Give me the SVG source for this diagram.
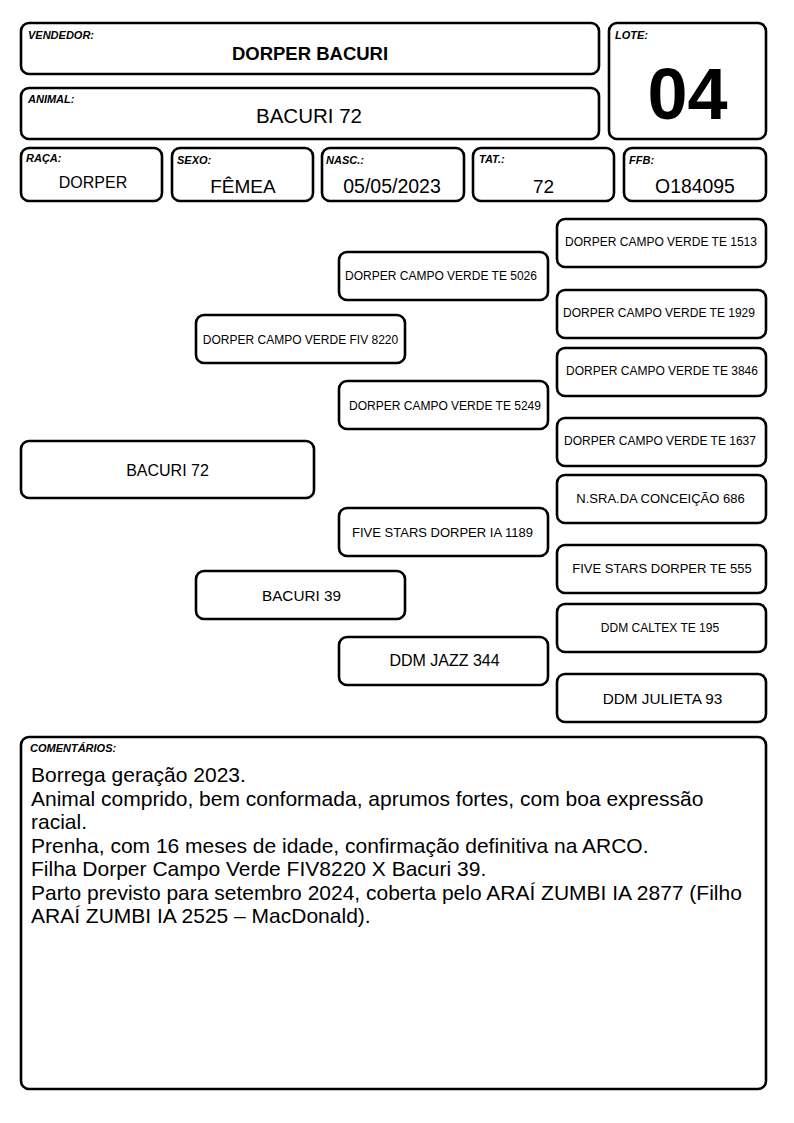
<svg xmlns="http://www.w3.org/2000/svg" width="794" height="1123" viewBox="0 0 794 1123">
<style>
.b{fill:#fff;stroke:#000;stroke-width:2.6}
.lbl{font-family:"Liberation Sans",Arial,sans-serif;font-size:11px;font-weight:bold;font-style:italic;fill:#000}
.v{font-family:"Liberation Sans",Arial,sans-serif;fill:#000;text-anchor:middle}
.p{font-family:"Liberation Sans",Arial,sans-serif;fill:#000;text-anchor:middle;font-size:12px}
.p13{font-size:13px}
.c{font-family:"Liberation Sans",Arial,sans-serif;font-size:21px;fill:#000}
</style>
<rect width="794" height="1123" fill="#fff"/>
<g id="vendedor"><rect class="b" x="21" y="23" width="578" height="51" rx="8"/><text class="lbl" x="28" y="39">VENDEDOR:</text><text class="v" x="310" y="60" font-size="18.5" font-weight="bold">DORPER BACURI</text></g>
<g id="animal"><rect class="b" x="21" y="88" width="578" height="51" rx="8"/><text class="lbl" x="28" y="103">ANIMAL:</text><text class="v" x="309" y="123" font-size="20.5">BACURI 72</text></g>
<g id="lote"><rect class="b" x="609" y="23" width="157" height="116" rx="8"/><text class="lbl" x="615" y="39">LOTE:</text><text class="v" x="687.5" y="119" font-size="72" font-weight="bold">04</text></g>
<g id="raca"><rect class="b" x="21" y="148" width="141" height="53" rx="8"/><text class="lbl" x="26" y="162">RAÇA:</text><text class="v" x="93" y="188" font-size="16">DORPER</text></g>
<g id="sexo"><rect class="b" x="172" y="148" width="141" height="53" rx="8"/><text class="lbl" x="177" y="164">SEXO:</text><text class="v" x="243" y="193" font-size="19">FÊMEA</text></g>
<g id="nasc"><rect class="b" x="322" y="148" width="142" height="53" rx="8"/><text class="lbl" x="326" y="164">NASC.:</text><text class="v" x="392" y="193" font-size="19.5">05/05/2023</text></g>
<g id="tat"><rect class="b" x="473" y="148" width="141" height="53" rx="8"/><text class="lbl" x="479" y="163">TAT.:</text><text class="v" x="543.5" y="193" font-size="19">72</text></g>
<g id="ffb"><rect class="b" x="624" y="148" width="142" height="53" rx="8"/><text class="lbl" x="629" y="164">FFB:</text><text class="v" x="695" y="193" font-size="19.4">O184095</text></g>

<g id="connectors"></g>

<g id="n-bacuri72"><rect class="b" x="21" y="441" width="293" height="57" rx="8"/><text class="v" x="167.5" y="475.5" font-size="16">BACURI 72</text></g>
<g id="n-fiv8220"><rect class="b" x="196" y="315" width="209" height="48" rx="8"/><text class="p" x="300.5" y="344">DORPER CAMPO VERDE FIV 8220</text></g>
<g id="n-bacuri39"><rect class="b" x="196" y="571" width="209" height="48" rx="8"/><text class="v" x="301.5" y="600.5" font-size="15.3">BACURI 39</text></g>
<g id="n-te5026"><rect class="b" x="339" y="252" width="209" height="48" rx="8"/><text class="p" x="441" y="280">DORPER CAMPO VERDE TE 5026</text></g>
<g id="n-te5249"><rect class="b" x="339" y="381" width="209" height="48" rx="8"/><text class="p" x="445" y="410">DORPER CAMPO VERDE TE 5249</text></g>
<g id="n-ia1189"><rect class="b" x="339" y="508" width="209" height="48" rx="8"/><text class="p p13" x="442.5" y="537">FIVE STARS DORPER IA 1189</text></g>
<g id="n-jazz"><rect class="b" x="339" y="637" width="209" height="48" rx="8"/><text class="v" x="444.5" y="666" font-size="16">DDM JAZZ 344</text></g>
<g id="n-te1513"><rect class="b" x="557" y="219" width="209" height="48" rx="8"/><text class="p" x="661" y="246">DORPER CAMPO VERDE TE 1513</text></g>
<g id="n-te1929"><rect class="b" x="557" y="290" width="209" height="48" rx="8"/><text class="p" x="659" y="317">DORPER CAMPO VERDE TE 1929</text></g>
<g id="n-te3846"><rect class="b" x="557" y="348" width="209" height="48" rx="8"/><text class="p" x="662" y="375">DORPER CAMPO VERDE TE 3846</text></g>
<g id="n-te1637"><rect class="b" x="557" y="418" width="209" height="48" rx="8"/><text class="p" x="660" y="445">DORPER CAMPO VERDE TE 1637</text></g>
<g id="n-nsra686"><rect class="b" x="557" y="475" width="209" height="48" rx="8"/><text class="p p13" x="660.5" y="503">N.SRA.DA CONCEIÇÃO 686</text></g>
<g id="n-te555"><rect class="b" x="557" y="545" width="209" height="48" rx="8"/><text class="p p13" x="662" y="573">FIVE STARS DORPER TE 555</text></g>
<g id="n-caltex"><rect class="b" x="557" y="604" width="209" height="48" rx="8"/><text class="p" x="660" y="632" font-size="12.7">DDM CALTEX TE 195</text></g>
<g id="n-julieta"><rect class="b" x="557" y="674" width="209" height="48" rx="8"/><text class="v" x="662.5" y="703.5" font-size="15.3">DDM JULIETA 93</text></g>

<g id="comentarios"><rect class="b" x="21" y="737" width="745" height="352" rx="8"/><text class="lbl" x="30" y="752">COMENTÁRIOS:</text>
<text class="c"><tspan x="31" y="782">Borrega geração 2023.</tspan><tspan x="31" y="806">Animal comprido, bem conformada, aprumos fortes, com boa expressão</tspan><tspan x="31" y="829">racial.</tspan><tspan x="31" y="853">Prenha, com 16 meses de idade, confirmação definitiva na ARCO.</tspan><tspan x="31" y="876">Filha Dorper Campo Verde FIV8220 X Bacuri 39.</tspan><tspan x="31" y="900">Parto previsto para setembro 2024, coberta pelo ARAÍ ZUMBI IA 2877 (Filho</tspan><tspan x="31" y="923">ARAÍ ZUMBI IA 2525 – MacDonald).</tspan></text></g>
</svg>
